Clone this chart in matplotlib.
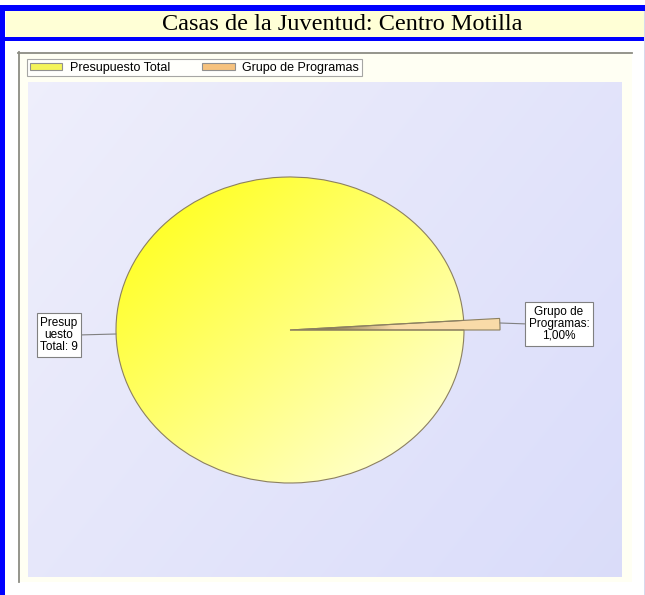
import numpy as np
import matplotlib
matplotlib.use("Agg")
import matplotlib.pyplot as plt
from matplotlib.patches import Rectangle, Patch

plt.rcParams['font.family'] = ['Liberation Sans', 'DejaVu Sans']

title = "Casas de la Juventud: Centro Motilla"
categories = ["Presupuesto Total", "Grupo de Programas"]
values = [99.0, 1.0]
slice_labels = ["Presup\nuesto\nTotal: 9", "Grupo de\nProgramas:\n1,00%"]
legend_colors = ["#F4F45A", "#F6C27E"]

W, H = 645, 595
fig = plt.figure(figsize=(W / 100, H / 100), dpi=100)
fig.patch.set_facecolor("white")

# ---- background (pixel coordinates) ----
bg = fig.add_axes([0, 0, 1, 1])
bg.set_xlim(0, W)
bg.set_ylim(H, 0)
bg.axis("off")

bg.add_patch(Rectangle((0, 5), W, 6, color="#0000FF", lw=0))
bg.add_patch(Rectangle((0, 5), 4.5, H, color="#0000FF", lw=0))
bg.add_patch(Rectangle((5.5, 11), W - 7, 26, color="#FFFFD6", lw=0))
bg.add_patch(Rectangle((4.5, 37), W - 5, 3.5, color="#0000FF", lw=0))
bg.add_patch(Rectangle((643.5, 11), 1.5, H, color="#D8D8EC", lw=0))
bg.text(342, 25, title, ha="center", va="center", fontsize=17.5,
        family="Liberation Serif", color="black")

# chart frame
bg.add_patch(Rectangle((18, 52), 614, 530, facecolor="#FFFFF3", edgecolor="none"))
bg.plot([18, 632], [52.5, 52.5], color="#8C8C84", lw=1.3)
bg.plot([18.5, 18.5], [52, 582], color="#8C8C84", lw=1.3)

# plot area gradient (lavender)
gx = np.linspace(0, 1, 200)
gy = np.linspace(0, 1, 200)
GX, GY = np.meshgrid(gx, gy)
t = (GX * 0.6 + GY * 0.4)
c0 = np.array([0.935, 0.935, 0.985])
c1 = np.array([0.855, 0.865, 0.980])
img = c0[None, None, :] * (1 - t[..., None]) + c1[None, None, :] * t[..., None]
bg.imshow(img, extent=(28, 622, 577, 82), aspect="auto", zorder=1, interpolation="bilinear")
bg.set_xlim(0, W)
bg.set_ylim(H, 0)

# ---- pie axes ----
cx, cy, rx, ry = 290, 330, 174, 153
ax = fig.add_axes([0, 0, 1, 1])
ax.patch.set_alpha(0)
ax.axis("off")

wedges, _ = ax.pie(values, startangle=3.6, counterclock=True,
                   colors=["#FFFF80", "#F9D7A2"],
                   wedgeprops=dict(edgecolor="#8C8060", linewidth=0.8))
wedges[1].set_radius(1.207)

# yellow gradient inside main wedge
n = 300
u = np.linspace(-1, 1, n)
U, V = np.meshgrid(u, u)
tt = np.clip((U + V + 2.2) / 4, 0, 1)
y0 = np.array([1.0, 1.0, 0.0])
y1 = np.array([1.0, 1.0, 0.86])
yimg = y0[None, None, :] * (1 - tt[..., None]) + y1[None, None, :] * tt[..., None]
im = ax.imshow(yimg, extent=(-1, 1, -1, 1), origin="upper", aspect="auto",
               zorder=wedges[0].get_zorder() + 0.1, interpolation="bilinear")
im.set_clip_path(wedges[0])
wedges[0].set_zorder(wedges[0].get_zorder() + 0.2)
wedges[0].set_facecolor("none")

# orange wedge gradient (dark near center)
ou = np.linspace(0, 1.25, n)
OU, OV = np.meshgrid(ou, np.linspace(0, 1, 10))
ot = np.clip((OU - 0.1) / 0.5, 0, 1)
o0 = np.array([0.40, 0.36, 0.22])
o1 = np.array([0.98, 0.86, 0.66])
oimg = o0[None, None, :] * (1 - ot[..., None]) + o1[None, None, :] * ot[..., None]
im2 = ax.imshow(oimg, extent=(0, 1.25, -0.1, 0.2), aspect="auto",
                zorder=wedges[1].get_zorder() + 0.1, interpolation="bilinear")
im2.set_clip_path(wedges[1])
wedges[1].set_zorder(wedges[1].get_zorder() + 0.2)
wedges[1].set_facecolor("none")

ax.set_xlim((0 - cx) / rx, (W - cx) / rx)
ax.set_ylim((cy - H) / ry, (cy - 0) / ry)
ax.set_aspect("auto")

def px(x, y):
    return ((x - cx) / rx, (cy - y) / ry)

bbox = dict(boxstyle="square,pad=0.3", fc="white", ec="#808080", lw=0.8)
ax.annotate(slice_labels[0], xy=px(116, 334), xytext=px(59, 335),
            ha="center", va="center", fontsize=8.5, bbox=bbox, linespacing=1.0,
            arrowprops=dict(arrowstyle="-", color="#808080", lw=0.8,
                            shrinkA=0, shrinkB=0, relpos=(1.0, 0.5)), zorder=10)
ax.annotate(slice_labels[1], xy=px(500, 323), xytext=px(559, 324),
            ha="center", va="center", fontsize=8.5, bbox=bbox, linespacing=1.0,
            arrowprops=dict(arrowstyle="-", color="#808080", lw=0.8,
                            shrinkA=0, shrinkB=0, relpos=(0.0, 0.5)), zorder=10)

handles = [Patch(facecolor=c, edgecolor="#909090", lw=0.8) for c in legend_colors]
leg = fig.legend(handles, categories, ncol=2, loc="upper left",
                 bbox_to_anchor=(27 / W, 1 - 59 / H), fontsize=9,
                 frameon=True, fancybox=False, handlelength=2.6, handleheight=0.5,
                 columnspacing=2.6, handletextpad=0.6, borderpad=0.2,
                 borderaxespad=0)
leg.get_frame().set_edgecolor("#909090")
leg.get_frame().set_linewidth(0.8)
leg.get_frame().set_facecolor("white")

fig.savefig("out.png", dpi=100)
